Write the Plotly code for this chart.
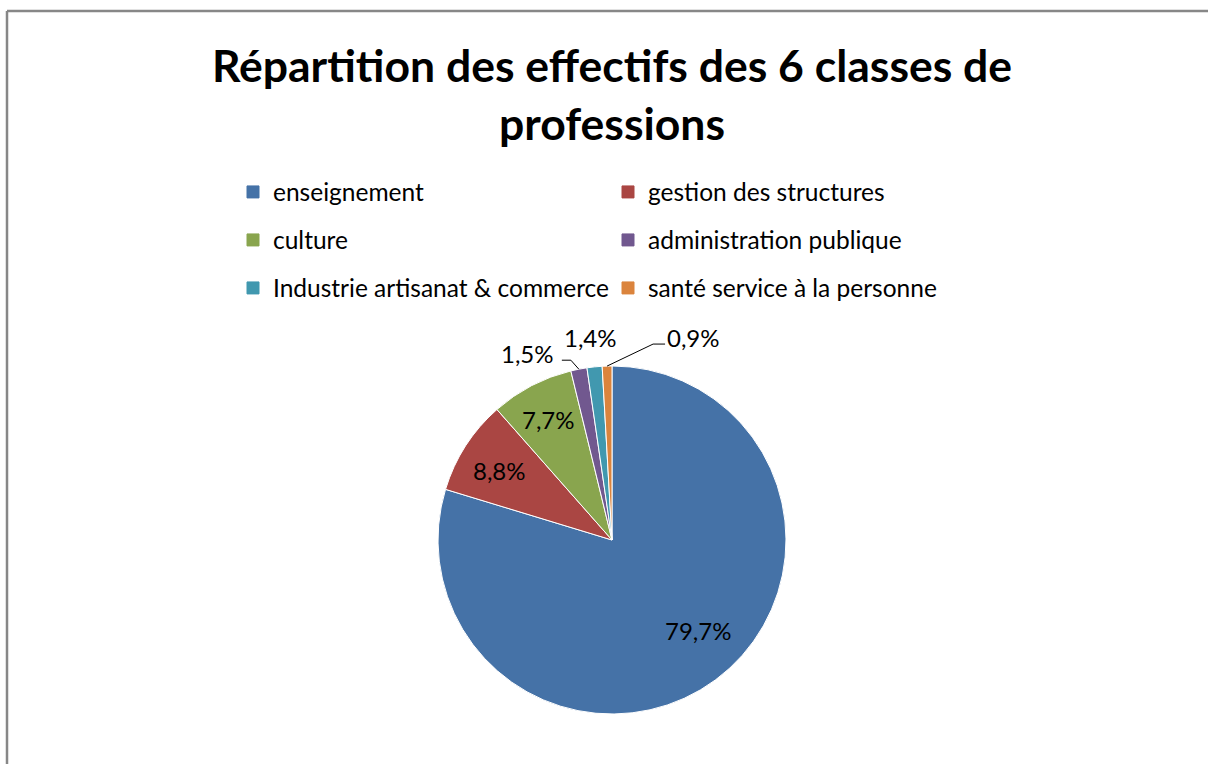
import math
import plotly.graph_objects as go

categories = ["enseignement", "gestion des structures", "culture",
              "administration publique", "Industrie artisanat & commerce",
              "santé service à la personne"]
values = [79.7, 8.8, 7.7, 1.5, 1.4, 0.9]
colors = ["#4572A7", "#AA4643", "#89A54E", "#71588F", "#4198AF", "#DB843D"]
label_text = [f"{v:.1f}%".replace(".", ",") for v in values]

W, H = 1208, 764
FONT = "Lato"
cx, cy, r = 612, 540, 174   # pie centre / radius in pixels

def px(x, y):
    return x / W, 1 - y / H

fig = go.Figure()
fig.add_trace(go.Pie(
    labels=categories, values=values, sort=False, direction="clockwise",
    rotation=0, textinfo="none",
    marker=dict(colors=colors, line=dict(color="white", width=1)),
    showlegend=False, hoverinfo="label+percent",
    domain=dict(x=[(cx - r) / W, (cx + r) / W], y=[(H - cy - r) / H, (H - cy + r) / H]),
))

# ---- data labels placed from each slice's mid-angle ----
total = sum(values)
cum = 0.0
mid_angles = []
for v in values:
    mid_angles.append((cum + v / 2) / total * 2 * math.pi)
    cum += v

# label style: ("in", radial fraction, nudge) or ("out", text offset, leader elbows)
label_style = [
    ("in", 0.74, (9, -13)), ("in", 0.77, (0, 3)), ("in", 0.78, (-1, 0)),
    ("out", (-51, -16), [(-8, -9), (-17, -9)]),
    ("out", (-4, -29), []),
    ("out", (86, -29), [(46, -22), (58, -22)]),
]
annotations = []
shapes = []
for txt, th, st in zip(label_text, mid_angles, label_style):
    s, c = math.sin(th), math.cos(th)
    if st[0] == "in":
        f = st[1]
        tx, ty = cx + f * r * s + st[2][0], cy - f * r * c + st[2][1]
    else:
        ex, ey = cx + r * s, cy - r * c
        tx, ty = ex + st[1][0], ey + st[1][1]
        if st[2]:
            pts = [(ex, ey)] + [(ex + dx, ey + dy) for dx, dy in st[2]]
            path = "M " + " L ".join(f"{p[0] / W:.5f},{1 - p[1] / H:.5f}" for p in pts)
            shapes.append(dict(type="path", xref="paper", yref="paper", path=path,
                               line=dict(color="black", width=1)))
    x, y = px(tx, ty)
    annotations.append(dict(text=txt, x=x, y=y, xref="paper", yref="paper",
                            showarrow=False, xanchor="center", yanchor="middle",
                            font=dict(family=FONT, size=24, color="black")))

# ---- legend: three rows of two entries ----
legend_names = ["legend", "legend2", "legend3"]
for i, (name, col) in enumerate(zip(categories, colors)):
    fig.add_trace(go.Bar(
        x=[None], y=[None], name=name,
        marker=dict(color=col, line=dict(color=col, width=1)),
        legend=legend_names[i // 2], showlegend=True,
    ))

row_y = [192, 240, 288]
leg_common = dict(orientation="h", xanchor="left", yanchor="middle",
                  font=dict(family=FONT, size=24.5, color="black"),
                  entrywidth=330, entrywidthmode="pixels",
                  bgcolor="rgba(0,0,0,0)")
layout_legends = {}
for ln, yy in zip(legend_names, row_y):
    layout_legends[ln] = dict(x=233 / W, y=(H - yy) / H, **leg_common)

# chart-area frame: only the top and left edges fall inside the picture
frame = dict(type="line", xref="paper", yref="paper", line=dict(color="#878787", width=2.5))
shapes.append(dict(frame, x0=7 / W, x1=1.0, y0=(H - 11) / H, y1=(H - 11) / H))
shapes.append(dict(frame, x0=7 / W, x1=7 / W, y0=0.0, y1=(H - 11) / H))

fig.update_layout(
    width=W, height=H, margin=dict(l=0, r=0, t=0, b=0),
    paper_bgcolor="white", plot_bgcolor="white",
    title=dict(text="<b>Répartition des effectifs des 6 classes de<br>professions</b>",
               x=612 / W, xanchor="center", y=(H - 82) / H, yanchor="middle",
               font=dict(family=FONT, size=44.5, color="black")),
    xaxis=dict(visible=False), yaxis=dict(visible=False),
    shapes=shapes, annotations=annotations,
    **layout_legends,
)

fig.write_html("out.html", config={"displayModeBar": False},
               post_script="document.body.style.margin='0';")
